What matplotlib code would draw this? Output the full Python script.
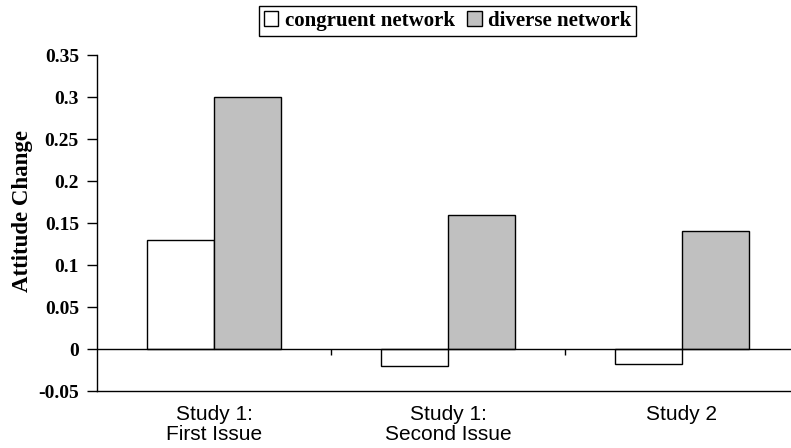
import matplotlib
matplotlib.use("Agg")
import matplotlib.pyplot as plt
import numpy as np

categories = ["Study 1:\nFirst Issue", "Study 1:\nSecond Issue", "Study 2"]
series_names = ["congruent network", "diverse network"]
congruent = [0.13, -0.02, -0.018]
diverse = [0.30, 0.16, 0.14]
yticks = [-0.05, 0, 0.05, 0.1, 0.15, 0.2, 0.25, 0.3, 0.35]
ytick_labels = ["-0.05", "0", "0.05", "0.1", "0.15", "0.2", "0.25", "0.3", "0.35"]

W, H = 791, 448
fig = plt.figure(figsize=(W / 100, H / 100), dpi=100)
ax = fig.add_axes([97 / W, (H - 391) / H, (799 - 97) / W, (391 - 55) / H])

x = np.arange(len(categories))
bw = 0.285
b1 = ax.bar(x - bw / 2, congruent, bw, color="white", edgecolor="black", linewidth=1.0, label=series_names[0])
b2 = ax.bar(x + bw / 2, diverse, bw, color="#c0c0c0", edgecolor="black", linewidth=1.0, label=series_names[1])

ax.set_xlim(-0.5, 2.5)
ax.set_ylim(-0.05, 0.35)
ax.axhline(0, color="black", linewidth=1.0, zorder=3)
ax.vlines([0.5, 1.5], -0.007, 0, color="black", linewidth=1.0, zorder=3)

ax.spines["top"].set_visible(False)
ax.spines["right"].set_visible(False)
for s in ("left", "bottom"):
    ax.spines[s].set_linewidth(1.0)

ax.set_yticks(yticks)
ax.set_yticklabels(ytick_labels, fontfamily="Liberation Serif", fontweight="bold", fontsize=14)
ax.tick_params(axis="y", direction="out", length=7, width=1.0, pad=6)
ax.set_xticks(x)
ax.set_xticklabels(categories, fontfamily="Liberation Sans", fontsize=15, linespacing=1.05)
ax.tick_params(axis="x", length=0, pad=10)

ax.set_ylabel("Attitude Change", fontfamily="Liberation Serif", fontweight="bold", fontsize=16.5)
ax.yaxis.set_label_coords((33 - 97) / 702, (391 - 211) / 336)

leg = fig.legend(handles=[b1, b2], loc="center", bbox_to_anchor=(447.5 / W, 1 - 21 / H), ncol=2,
                 frameon=True, fancybox=False, edgecolor="black", framealpha=1,
                 prop={"family": "Liberation Serif", "weight": "bold", "size": 15},
                 handlelength=0.7, handleheight=0.7, handletextpad=0.3, columnspacing=0.6,
                 borderpad=0.25, borderaxespad=0)
leg.get_frame().set_linewidth(1.0)

fig.savefig("out.png", dpi=100)
